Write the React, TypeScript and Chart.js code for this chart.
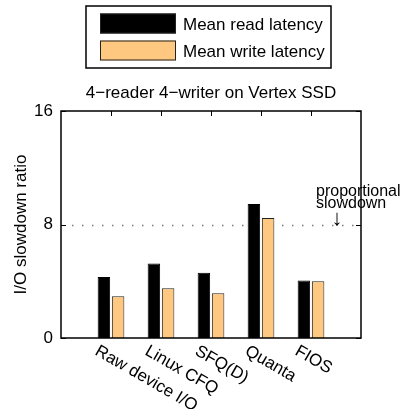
import React, { useEffect, useRef } from 'react';
import { Chart, registerables } from 'chart.js';

Chart.register(...registerables);

const categories = ['Raw device I/O', 'Linux CFQ', 'SFQ(D)', 'Quanta', 'FIOS'];
const readLatency = [4.3, 5.25, 4.6, 9.45, 4.05];
const writeLatency = [2.95, 3.5, 3.15, 8.45, 4.0];
const seriesLabels = ['Mean read latency', 'Mean write latency'];
const yTicks = [0, 8, 16];
const yMax = 16;
const referenceValue = 8;
const chartTitle = '4\u2212reader 4\u2212writer on Vertex SSD';
const yTitle = 'I/O slowdown ratio';
const annotationLines = ['proportional', 'slowdown'];
const annotationArrow = '\u2193';

const FONT = '"Liberation Sans", Arial, Helvetica, sans-serif';
const READ_COLOR = '#000000';
const WRITE_COLOR = '#FFC880';

const decorPlugin = {
  id: 'decor',
  beforeDatasetsDraw(chart: any) {
    const { ctx, chartArea: a, scales } = chart;
    const py = Math.round(scales.y.getPixelForValue(referenceValue)) + 0.5;
    ctx.save();
    ctx.strokeStyle = '#7a7a7a';
    ctx.lineWidth = 1.5;
    ctx.setLineDash([1.5, 8.5]);
    ctx.beginPath();
    ctx.moveTo(a.left + 11, py);
    ctx.lineTo(a.right, py);
    ctx.stroke();
    ctx.restore();
  },
  afterDatasetsDraw(chart: any) {
    const { ctx, chartArea: a, scales } = chart;
    ctx.save();
    ctx.strokeStyle = '#000';
    ctx.lineWidth = 1.5;
    ctx.strokeRect(a.left, a.top, a.right - a.left, a.bottom - a.top);
    ctx.lineWidth = 1;
    ctx.beginPath();
    for (const v of yTicks) {
      const py = Math.round(scales.y.getPixelForValue(v)) + 0.5;
      ctx.moveTo(a.left, py);
      ctx.lineTo(a.left + 5, py);
      ctx.moveTo(a.right, py);
      ctx.lineTo(a.right - 5, py);
    }
    categories.forEach((_, i) => {
      const px = Math.round(scales.x.getPixelForValue(i + 1)) + 0.5;
      ctx.moveTo(px, a.top);
      ctx.lineTo(px, a.top + 5);
    });
    ctx.stroke();
    ctx.restore();
  },
  afterDraw(chart: any) {
    const { ctx, chartArea: a, scales } = chart;
    ctx.save();
    ctx.fillStyle = '#000';
    // rotated category labels
    ctx.font = `17px ${FONT}`;
    ctx.textAlign = 'left';
    ctx.textBaseline = 'alphabetic';
    categories.forEach((label, i) => {
      const px = scales.x.getPixelForValue(i + 1);
      ctx.save();
      ctx.translate(px - 17, a.bottom + 16);
      ctx.rotate((30 * Math.PI) / 180);
      ctx.fillText(label, 0, 0);
      ctx.restore();
    });
    // title
    ctx.textAlign = 'center';
    ctx.fillText(chartTitle, (a.left + a.right) / 2, 98);
    // legend
    const box = { x: 86, y: 6, w: 245, h: 62 };
    ctx.lineWidth = 1.5;
    ctx.strokeStyle = '#000';
    ctx.strokeRect(box.x, box.y, box.w, box.h);
    ctx.textAlign = 'left';
    chart.data.datasets.forEach((ds: any, i: number) => {
      const sy = 13.5 + i * 27;
      ctx.fillStyle = ds.backgroundColor;
      ctx.fillRect(100, sy, 76, 20);
      ctx.lineWidth = 1;
      ctx.strokeStyle = '#222';
      ctx.strokeRect(100.5, sy + 0.5, 75, 19);
      ctx.fillStyle = '#000';
      ctx.fillText(ds.label, 183, 29.5 + i * 27);
    });
    // annotation
    ctx.font = `16px ${FONT}`;
    ctx.fillText(annotationLines[0], 316, 196);
    ctx.fillText(annotationLines[1], 316, 208);
    ctx.textAlign = 'center';
    ctx.font = `22px ${FONT}`;
    ctx.fillText(annotationArrow, 337, 225);
    ctx.restore();
  },
};

export default function App() {
  const canvasRef = useRef<HTMLCanvasElement | null>(null);

  useEffect(() => {
    const canvas = canvasRef.current;
    if (!canvas) return;
    const labels = ['', ...categories, ''];
    const chart = new Chart(canvas, {
      type: 'bar',
      data: {
        labels,
        datasets: [
          {
            label: seriesLabels[0],
            data: [null, ...readLatency, null],
            backgroundColor: READ_COLOR,
            borderColor: '#000',
            borderWidth: 1,
            categoryPercentage: 0.568,
            barPercentage: 0.88,
          },
          {
            label: seriesLabels[1],
            data: [null, ...writeLatency, null],
            backgroundColor: WRITE_COLOR,
            borderColor: '#222',
            borderWidth: 1,
            categoryPercentage: 0.568,
            barPercentage: 0.88,
          },
        ],
      },
      options: {
        responsive: false,
        animation: false,
        events: [],
        devicePixelRatio: 1,
        layout: { padding: { left: 8, top: 111, right: 44, bottom: 0 } },
        plugins: {
          legend: { display: false },
          title: { display: false },
          tooltip: { enabled: false },
        },
        scales: {
          x: {
            type: 'category',
            offset: false,
            grid: { display: false, drawTicks: false },
            border: { display: false },
            ticks: { display: false },
            afterFit: (s: any) => {
              s.height = 71;
            },
          },
          y: {
            min: 0,
            max: yMax,
            grid: { display: false, drawTicks: false },
            border: { display: false },
            ticks: {
              color: '#000',
              padding: 8,
              font: { family: FONT, size: 17 },
            },
            afterBuildTicks: (s: any) => {
              s.ticks = yTicks.map((v) => ({ value: v }));
            },
            afterFit: (s: any) => {
              s.width = 53;
            },
            title: {
              display: true,
              text: yTitle,
              color: '#000',
              font: { family: FONT, size: 17 },
              padding: { top: 3, bottom: 0 },
            },
          },
        },
      },
      plugins: [decorPlugin],
    });
    return () => chart.destroy();
  }, []);

  return (
    <div style={{ position: 'absolute', left: 0, top: 0, width: 405, height: 409, background: '#fff' }}>
      <canvas ref={canvasRef} width={405} height={409} style={{ display: 'block' }} />
    </div>
  );
}
